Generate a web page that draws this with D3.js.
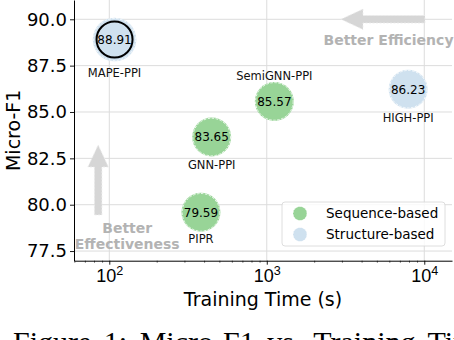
<!DOCTYPE html>
<html>
<head>
<meta charset="utf-8">
<script src="https://cdn.jsdelivr.net/npm/d3@7/dist/d3.min.js"></script>
<style>
html,body{margin:0;padding:0;background:#fff;overflow:hidden;}
svg{display:block;font-family:"DejaVu Sans",sans-serif;}
</style>
</head>
<body>
<svg id="chart"></svg>
<script>
// data
var methods=["MAPE-PPI","GNN-PPI","SemiGNN-PPI","HIGH-PPI","PIPR"];
var trainTime=[108,447,1117,7900,382];
var microF1=[88.91,83.65,85.57,86.23,79.59];
var kinds=["Structure-based","Sequence-based","Sequence-based","Structure-based","Sequence-based"];
var legendKinds=["Sequence-based","Structure-based"];
var yTicks=[77.5,80.0,82.5,85.0,87.5,90.0];
var xTicks=[100,1000,10000];

var w=454,h=340;
var margin={left:74,right:2,top:0,bottom:79.3};
var colors={"Sequence-based":"#98d497","Structure-based":"#cfe1ef"};
var best="MAPE-PPI";

var data=methods.map(function(m,i){
  return {method:m,time:trainTime[i],f1:microF1[i],kind:kinds[i]};
});

var svg=d3.select("#chart").attr("width",w).attr("height",h);

var xScale=d3.scaleLog()
  .domain([59.7,15000])
  .range([margin.left,w-margin.right]);
var yScale=d3.scaleLinear()
  .domain([76.98,91.04])
  .range([h-margin.bottom,margin.top]);

// grid
svg.append("g").selectAll("line").data(xTicks).enter().append("line")
  .attr("x1",function(d){return xScale(d);}).attr("x2",function(d){return xScale(d);})
  .attr("y1",yScale.range()[1]).attr("y2",yScale.range()[0])
  .attr("stroke","#dcdcdc").attr("stroke-width",1);
svg.append("g").selectAll("line").data(yTicks).enter().append("line")
  .attr("x1",xScale.range()[0]).attr("x2",xScale.range()[1])
  .attr("y1",function(d){return yScale(d);}).attr("y2",function(d){return yScale(d);})
  .attr("stroke","#dcdcdc").attr("stroke-width",1);

// axes
var minor=[];
[10,100,1000,10000].forEach(function(b){
  for(var k=2;k<10;k++){
    var v=b*k;
    if(v>xScale.domain()[0]&&v<xScale.domain()[1])minor.push(v);
  }
});
var xAxisMinor=d3.axisBottom(xScale).tickValues(minor).tickSize(2).tickFormat("");
svg.append("g")
  .attr("transform","translate(0,"+(h-margin.bottom)+")")
  .call(xAxisMinor)
  .call(function(g){g.select(".domain").remove();g.selectAll("line").attr("stroke","#000").attr("stroke-width",0.6);});
var xAxis=d3.axisBottom(xScale).tickValues(xTicks).tickSize(4).tickSizeOuter(0).tickFormat("");
var gx=svg.append("g")
  .attr("transform","translate(0,"+(h-margin.bottom)+")")
  .call(xAxis);
gx.select(".domain").attr("stroke","#000").attr("stroke-width",1);
gx.selectAll(".tick line").attr("stroke","#000").attr("stroke-width",0.9);
gx.selectAll(".tick").append("text")
  .attr("y",21.5)
  .attr("fill","#000")
  .attr("text-anchor","middle")
  .style("font-size","18px")
  .each(function(d){
    var t=d3.select(this);
    t.append("tspan").text("10");
    t.append("tspan").attr("dy",-7).style("font-size","12.6px").text(Math.round(Math.log10(d)));
  });

var yAxis=d3.axisLeft(yScale).tickValues(yTicks).tickSize(4).tickSizeOuter(0).tickPadding(3)
  .tickFormat(d3.format(".1f"));
var gy=svg.append("g")
  .attr("transform","translate("+margin.left+",0)")
  .call(yAxis);
gy.select(".domain").attr("stroke","#000").attr("stroke-width",1);
gy.selectAll(".tick line").attr("stroke","#000").attr("stroke-width",0.9);
gy.selectAll(".tick text").attr("fill","#000").style("font-size","18px")
  .style("font-family","DejaVu Sans");

// axis titles
svg.append("text")
  .attr("x",(xScale.range()[0]+xScale.range()[1])/2)
  .attr("y",306)
  .attr("text-anchor","middle")
  .style("font-size","19px")
  .text("Training Time (s)");
svg.append("text")
  .attr("transform","translate(19.5,"+((yScale.range()[0]+yScale.range()[1])/2)+") rotate(-90)")
  .attr("text-anchor","middle")
  .style("font-size","19px")
  .text("Micro-F1");

// arrows
function arrowPath(x1,y1,x2,y2,shaft,headW,headL){
  var dx=x2-x1,dy=y2-y1,len=Math.sqrt(dx*dx+dy*dy);
  var ux=dx/len,uy=dy/len,px=-uy,py=ux;
  var bx=x2-ux*headL,by=y2-uy*headL;
  var pts=[
    [x1+px*shaft/2,y1+py*shaft/2],
    [bx+px*shaft/2,by+py*shaft/2],
    [bx+px*headW/2,by+py*headW/2],
    [x2,y2],
    [bx-px*headW/2,by-py*headW/2],
    [bx-px*shaft/2,by-py*shaft/2],
    [x1-px*shaft/2,y1-py*shaft/2]
  ];
  return "M"+pts.map(function(p){return p.join(",");}).join("L")+"Z";
}
var effArrow={from:[10100,90.0],to:[2960,90.0]};
var accArrow={from:[85,79.45],to:[85,83.22]};
[effArrow,accArrow].forEach(function(a){
  svg.append("path")
    .attr("d",arrowPath(xScale(a.from[0]),yScale(a.from[1]),xScale(a.to[0]),yScale(a.to[1]),7.5,20.5,22))
    .attr("fill","#d6d6d6")
    .attr("stroke","#ececec")
    .attr("stroke-width",0.8)
    .attr("stroke-dasharray","2,1.5");
});
svg.append("text")
  .attr("x",xScale(5930)).attr("y",yScale(88.88))
  .attr("dy","0.36em")
  .attr("text-anchor","middle")
  .attr("fill","#b3b3b3")
  .style("font-size","14px").style("font-weight","bold")
  .text("Better Efficiency");
var effText=svg.append("text")
  .attr("text-anchor","middle")
  .attr("fill","#b3b3b3")
  .style("font-size","14px").style("font-weight","bold");
effText.append("tspan").attr("x",xScale(130)).attr("y",yScale(78.75)).attr("dy","0.36em").text("Better");
effText.append("tspan").attr("x",xScale(130)).attr("dy","16").text("Effectiveness");

// bubbles
var pts=svg.append("g").selectAll("g").data(data).enter().append("g")
  .attr("transform",function(d){return "translate("+xScale(d.time)+","+yScale(d.f1)+")";});
pts.append("circle")
  .attr("r",function(d){return d.method===best?21.8:19.5;})
  .attr("fill",function(d){return colors[d.kind];});
pts.append("circle")
  .attr("r",function(d){return d.method===best?21:18.8;})
  .attr("fill","none")
  .attr("stroke","#fff")
  .attr("stroke-width",0.8)
  .attr("stroke-dasharray","2.5,1.5");
pts.filter(function(d){return d.method===best;}).append("circle")
  .attr("r",18)
  .attr("fill","none")
  .attr("stroke","#000")
  .attr("stroke-width",2);
pts.append("text")
  .attr("text-anchor","middle")
  .attr("dy","0.36em")
  .style("font-size","12px")
  .attr("fill","#000")
  .text(function(d){return d.f1.toFixed(2);});
var labelDy={"MAPE-PPI":33,"SemiGNN-PPI":-26,"HIGH-PPI":29,"GNN-PPI":27.5,"PIPR":27};
pts.append("text")
  .attr("text-anchor","middle")
  .attr("y",function(d){return labelDy[d.method];})
  .attr("dy","0.36em")
  .style("font-size","11.5px")
  .attr("fill","#111")
  .text(function(d){return d.method;});

// legend
var lg=svg.append("g").attr("transform","translate(282,202)");
lg.append("rect")
  .attr("width",163).attr("height",44).attr("rx",3)
  .attr("fill","#fff").attr("fill-opacity",0.8)
  .attr("stroke","#d6d6d6").attr("stroke-width",0.8);
var items=lg.selectAll("g.item").data(legendKinds).enter().append("g")
  .attr("class","item")
  .attr("transform",function(d,i){return "translate(0,"+(11.5+i*21)+")";});
items.append("circle").attr("cx",18).attr("r",7)
  .attr("fill",function(d){return colors[d];})
  .attr("stroke","#fff").attr("stroke-width",0.6).attr("stroke-dasharray","2,1.2");
items.append("text").attr("x",44).attr("dy","0.36em")
  .style("font-size","13.5px").attr("fill","#000")
  .text(function(d){return d;});

// caption (cut by the page edge, as in the figure)
svg.append("text")
  .attr("x",13).attr("y",352)
  .style("font-family","'Liberation Serif',serif")
  .style("font-size","30px")
  .style("word-spacing","5px")
  .attr("fill","#000")
  .text("Figure 1: Micro-F1 vs. Training Time");
</script>
</body>
</html>
